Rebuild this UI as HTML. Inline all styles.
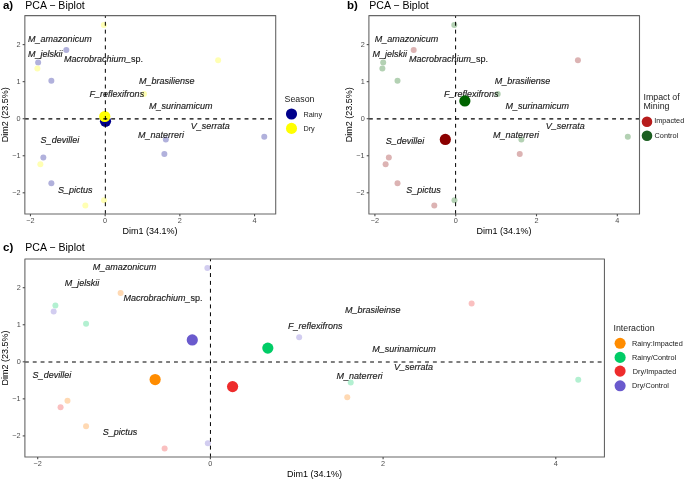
<!DOCTYPE html>
<html><head><meta charset="utf-8"><style>
html,body{margin:0;padding:0;background:#fff;}
body{width:685px;height:479px;overflow:hidden;}
svg{display:block;font-family:"Liberation Sans", sans-serif;will-change:transform;}
</style></head><body>
<svg width="685" height="479" viewBox="0 0 685 479">
<rect width="685" height="479" fill="#fff"/>
<text x="2.95" y="8.80" font-size="11.5" fill="#000" font-weight="bold" text-anchor="start" >a)</text>
<text x="25.25" y="8.80" font-size="10.56" fill="#000" text-anchor="start" >PCA − Biplot</text>
<circle cx="103.84" cy="24.96" r="3.0" fill="#FFFFB3"/>
<circle cx="66.31" cy="49.97" r="3.0" fill="#B1B1DC"/>
<circle cx="38.11" cy="62.38" r="3.0" fill="#B1B1DC"/>
<circle cx="37.36" cy="68.50" r="3.0" fill="#FFFFB3"/>
<circle cx="51.37" cy="80.72" r="3.0" fill="#B1B1DC"/>
<circle cx="143.99" cy="93.88" r="3.0" fill="#FFFFB3"/>
<circle cx="218.13" cy="60.35" r="3.0" fill="#FFFFB3"/>
<circle cx="165.84" cy="139.45" r="3.0" fill="#B1B1DC"/>
<circle cx="164.35" cy="154.08" r="3.0" fill="#B1B1DC"/>
<circle cx="264.26" cy="136.74" r="3.0" fill="#B1B1DC"/>
<circle cx="43.34" cy="157.60" r="3.0" fill="#B1B1DC"/>
<circle cx="40.35" cy="164.27" r="3.0" fill="#FFFFB3"/>
<circle cx="51.37" cy="183.17" r="3.0" fill="#B1B1DC"/>
<circle cx="85.35" cy="205.40" r="3.0" fill="#FFFFB3"/>
<circle cx="104.03" cy="200.21" r="3.0" fill="#FFFFB3"/>
<text x="28.10" y="41.90" font-size="9.0" fill="#1a1a1a" font-style="italic" stroke="#1a1a1a" stroke-width="0.15">M<tspan dy="0.7">_</tspan><tspan dy="-0.7">amazonicum</tspan></text>
<text x="28.10" y="57.00" font-size="9.0" fill="#1a1a1a" font-style="italic" stroke="#1a1a1a" stroke-width="0.15">M<tspan dy="0.7">_</tspan><tspan dy="-0.7">jelskii</tspan></text>
<text x="64.00" y="61.60" font-size="9.0" fill="#1a1a1a" font-style="italic" stroke="#1a1a1a" stroke-width="0.15">Macrobrachium<tspan dy="0.7">_</tspan><tspan dy="-0.7"><tspan font-style="normal">sp.</tspan></tspan></text>
<text x="139.00" y="84.10" font-size="9.0" fill="#1a1a1a" font-style="italic" stroke="#1a1a1a" stroke-width="0.15">M<tspan dy="0.7">_</tspan><tspan dy="-0.7">brasiliense</tspan></text>
<text x="89.60" y="96.50" font-size="9.0" fill="#1a1a1a" font-style="italic" stroke="#1a1a1a" stroke-width="0.15">F<tspan dy="0.7">_</tspan><tspan dy="-0.7">reflexifrons</tspan></text>
<text x="148.90" y="109.10" font-size="9.0" fill="#1a1a1a" font-style="italic" stroke="#1a1a1a" stroke-width="0.15">M<tspan dy="0.7">_</tspan><tspan dy="-0.7">surinamicum</tspan></text>
<text x="190.70" y="128.80" font-size="9.0" fill="#1a1a1a" font-style="italic" stroke="#1a1a1a" stroke-width="0.15">V<tspan dy="0.7">_</tspan><tspan dy="-0.7">serrata</tspan></text>
<text x="138.00" y="137.90" font-size="9.0" fill="#1a1a1a" font-style="italic" stroke="#1a1a1a" stroke-width="0.15">M<tspan dy="0.7">_</tspan><tspan dy="-0.7">naterreri</tspan></text>
<text x="40.60" y="142.90" font-size="9.0" fill="#1a1a1a" font-style="italic" stroke="#1a1a1a" stroke-width="0.15">S<tspan dy="0.7">_</tspan><tspan dy="-0.7">devillei</tspan></text>
<text x="58.00" y="192.60" font-size="9.0" fill="#1a1a1a" font-style="italic" stroke="#1a1a1a" stroke-width="0.15">S<tspan dy="0.7">_</tspan><tspan dy="-0.7">pictus</tspan></text>
<circle cx="105.52" cy="121.29" r="5.6" fill="#00008B"/>
<circle cx="104.78" cy="116.48" r="5.6" fill="#FFFF00"/>
<line x1="24.85" y1="118.85" x2="275.70" y2="118.85" stroke="#000" stroke-width="1.15" stroke-dasharray="3.923 3.923"/>
<line x1="105.35" y1="214.05" x2="105.35" y2="15.60" stroke="#000" stroke-width="1.0" stroke-dasharray="3.923 3.923"/>
<rect x="24.85" y="15.60" width="250.85" height="198.45" fill="none" stroke="#666666" stroke-width="1.1" stroke-linejoin="round"/>
<line x1="30.45" y1="214.05" x2="30.45" y2="216.25" stroke="#4d4d4d" stroke-width="1.1"/>
<text x="30.45" y="223.00" font-size="7.3" fill="#4d4d4d" text-anchor="middle" >−2</text>
<line x1="105.15" y1="214.05" x2="105.15" y2="216.25" stroke="#4d4d4d" stroke-width="1.1"/>
<text x="105.15" y="223.00" font-size="7.3" fill="#4d4d4d" text-anchor="middle" >0</text>
<line x1="179.85" y1="214.05" x2="179.85" y2="216.25" stroke="#4d4d4d" stroke-width="1.1"/>
<text x="179.85" y="223.00" font-size="7.3" fill="#4d4d4d" text-anchor="middle" >2</text>
<line x1="254.55" y1="214.05" x2="254.55" y2="216.25" stroke="#4d4d4d" stroke-width="1.1"/>
<text x="254.55" y="223.00" font-size="7.3" fill="#4d4d4d" text-anchor="middle" >4</text>
<line x1="22.65" y1="192.80" x2="24.85" y2="192.80" stroke="#4d4d4d" stroke-width="1.1"/>
<text x="20.65" y="195.30" font-size="7.3" fill="#4d4d4d" text-anchor="end" >−2</text>
<line x1="22.65" y1="155.75" x2="24.85" y2="155.75" stroke="#4d4d4d" stroke-width="1.1"/>
<text x="20.65" y="158.25" font-size="7.3" fill="#4d4d4d" text-anchor="end" >−1</text>
<line x1="22.65" y1="118.70" x2="24.85" y2="118.70" stroke="#4d4d4d" stroke-width="1.1"/>
<text x="20.65" y="121.20" font-size="7.3" fill="#4d4d4d" text-anchor="end" >0</text>
<line x1="22.65" y1="81.65" x2="24.85" y2="81.65" stroke="#4d4d4d" stroke-width="1.1"/>
<text x="20.65" y="84.15" font-size="7.3" fill="#4d4d4d" text-anchor="end" >1</text>
<line x1="22.65" y1="44.60" x2="24.85" y2="44.60" stroke="#4d4d4d" stroke-width="1.1"/>
<text x="20.65" y="47.10" font-size="7.3" fill="#4d4d4d" text-anchor="end" >2</text>
<text x="150.08" y="233.90" font-size="9.0" fill="#000" text-anchor="middle" >Dim1 (34.1%)</text>
<text x="0" y="0" font-size="9.0" fill="#000" text-anchor="middle" transform="translate(8.20,114.83) rotate(-90)">Dim2 (23.5%)</text>
<text x="284.60" y="101.90" font-size="8.8" fill="#1a1a1a" text-anchor="start" >Season</text>
<circle cx="291.5" cy="114" r="5.55" fill="#00008B"/>
<circle cx="291.5" cy="128.4" r="5.55" fill="#FFFF00"/>
<text x="303.40" y="117.30" font-size="7.3" fill="#1a1a1a" text-anchor="start" >Rainy</text>
<text x="303.40" y="131.30" font-size="7.3" fill="#1a1a1a" text-anchor="start" >Dry</text>
<text x="347.00" y="8.80" font-size="11.5" fill="#000" font-weight="bold" text-anchor="start" >b)</text>
<text x="369.30" y="8.80" font-size="10.56" fill="#000" text-anchor="start" >PCA − Biplot</text>
<circle cx="454.29" cy="24.96" r="3.0" fill="#B3D1B3"/>
<circle cx="413.68" cy="49.97" r="3.0" fill="#DCB3B3"/>
<circle cx="383.18" cy="62.38" r="3.0" fill="#B3D1B3"/>
<circle cx="382.37" cy="68.50" r="3.0" fill="#B3D1B3"/>
<circle cx="397.52" cy="80.72" r="3.0" fill="#B3D1B3"/>
<circle cx="497.72" cy="93.88" r="3.0" fill="#B3D1B3"/>
<circle cx="577.91" cy="60.35" r="3.0" fill="#DCB3B3"/>
<circle cx="521.35" cy="139.45" r="3.0" fill="#B3D1B3"/>
<circle cx="519.73" cy="154.08" r="3.0" fill="#DCB3B3"/>
<circle cx="627.80" cy="136.74" r="3.0" fill="#B3D1B3"/>
<circle cx="388.84" cy="157.60" r="3.0" fill="#DCB3B3"/>
<circle cx="385.61" cy="164.27" r="3.0" fill="#DCB3B3"/>
<circle cx="397.52" cy="183.17" r="3.0" fill="#DCB3B3"/>
<circle cx="434.29" cy="205.40" r="3.0" fill="#DCB3B3"/>
<circle cx="454.49" cy="200.21" r="3.0" fill="#B3D1B3"/>
<text x="374.80" y="41.90" font-size="9.0" fill="#1a1a1a" font-style="italic" stroke="#1a1a1a" stroke-width="0.15">M<tspan dy="0.7">_</tspan><tspan dy="-0.7">amazonicum</tspan></text>
<text x="372.60" y="57.00" font-size="9.0" fill="#1a1a1a" font-style="italic" stroke="#1a1a1a" stroke-width="0.15">M<tspan dy="0.7">_</tspan><tspan dy="-0.7">jelskii</tspan></text>
<text x="409.00" y="61.60" font-size="9.0" fill="#1a1a1a" font-style="italic" stroke="#1a1a1a" stroke-width="0.15">Macrobrachium<tspan dy="0.7">_</tspan><tspan dy="-0.7"><tspan font-style="normal">sp.</tspan></tspan></text>
<text x="494.80" y="83.90" font-size="9.0" fill="#1a1a1a" font-style="italic" stroke="#1a1a1a" stroke-width="0.15">M<tspan dy="0.7">_</tspan><tspan dy="-0.7">brasiliense</tspan></text>
<text x="443.90" y="96.50" font-size="9.0" fill="#1a1a1a" font-style="italic" stroke="#1a1a1a" stroke-width="0.15">F<tspan dy="0.7">_</tspan><tspan dy="-0.7">reflexifrons</tspan></text>
<text x="505.40" y="108.90" font-size="9.0" fill="#1a1a1a" font-style="italic" stroke="#1a1a1a" stroke-width="0.15">M<tspan dy="0.7">_</tspan><tspan dy="-0.7">surinamicum</tspan></text>
<text x="545.70" y="128.60" font-size="9.0" fill="#1a1a1a" font-style="italic" stroke="#1a1a1a" stroke-width="0.15">V<tspan dy="0.7">_</tspan><tspan dy="-0.7">serrata</tspan></text>
<text x="493.10" y="137.80" font-size="9.0" fill="#1a1a1a" font-style="italic" stroke="#1a1a1a" stroke-width="0.15">M<tspan dy="0.7">_</tspan><tspan dy="-0.7">naterreri</tspan></text>
<text x="385.80" y="143.50" font-size="9.0" fill="#1a1a1a" font-style="italic" stroke="#1a1a1a" stroke-width="0.15">S<tspan dy="0.7">_</tspan><tspan dy="-0.7">devillei</tspan></text>
<text x="406.20" y="193.00" font-size="9.0" fill="#1a1a1a" font-style="italic" stroke="#1a1a1a" stroke-width="0.15">S<tspan dy="0.7">_</tspan><tspan dy="-0.7">pictus</tspan></text>
<circle cx="445.32" cy="139.45" r="5.6" fill="#8B0000"/>
<circle cx="464.87" cy="100.92" r="5.6" fill="#006400"/>
<line x1="368.90" y1="118.85" x2="639.50" y2="118.85" stroke="#000" stroke-width="1.15" stroke-dasharray="3.923 3.923"/>
<line x1="455.60" y1="214.05" x2="455.60" y2="15.60" stroke="#000" stroke-width="1.0" stroke-dasharray="3.923 3.923"/>
<rect x="368.90" y="15.60" width="270.60" height="198.45" fill="none" stroke="#666666" stroke-width="1.1" stroke-linejoin="round"/>
<line x1="374.90" y1="214.05" x2="374.90" y2="216.25" stroke="#4d4d4d" stroke-width="1.1"/>
<text x="374.90" y="223.00" font-size="7.3" fill="#4d4d4d" text-anchor="middle" >−2</text>
<line x1="455.70" y1="214.05" x2="455.70" y2="216.25" stroke="#4d4d4d" stroke-width="1.1"/>
<text x="455.70" y="223.00" font-size="7.3" fill="#4d4d4d" text-anchor="middle" >0</text>
<line x1="536.50" y1="214.05" x2="536.50" y2="216.25" stroke="#4d4d4d" stroke-width="1.1"/>
<text x="536.50" y="223.00" font-size="7.3" fill="#4d4d4d" text-anchor="middle" >2</text>
<line x1="617.30" y1="214.05" x2="617.30" y2="216.25" stroke="#4d4d4d" stroke-width="1.1"/>
<text x="617.30" y="223.00" font-size="7.3" fill="#4d4d4d" text-anchor="middle" >4</text>
<line x1="366.70" y1="192.80" x2="368.90" y2="192.80" stroke="#4d4d4d" stroke-width="1.1"/>
<text x="364.70" y="195.30" font-size="7.3" fill="#4d4d4d" text-anchor="end" >−2</text>
<line x1="366.70" y1="155.75" x2="368.90" y2="155.75" stroke="#4d4d4d" stroke-width="1.1"/>
<text x="364.70" y="158.25" font-size="7.3" fill="#4d4d4d" text-anchor="end" >−1</text>
<line x1="366.70" y1="118.70" x2="368.90" y2="118.70" stroke="#4d4d4d" stroke-width="1.1"/>
<text x="364.70" y="121.20" font-size="7.3" fill="#4d4d4d" text-anchor="end" >0</text>
<line x1="366.70" y1="81.65" x2="368.90" y2="81.65" stroke="#4d4d4d" stroke-width="1.1"/>
<text x="364.70" y="84.15" font-size="7.3" fill="#4d4d4d" text-anchor="end" >1</text>
<line x1="366.70" y1="44.60" x2="368.90" y2="44.60" stroke="#4d4d4d" stroke-width="1.1"/>
<text x="364.70" y="47.10" font-size="7.3" fill="#4d4d4d" text-anchor="end" >2</text>
<text x="504.00" y="233.90" font-size="9.0" fill="#000" text-anchor="middle" >Dim1 (34.1%)</text>
<text x="0" y="0" font-size="9.0" fill="#000" text-anchor="middle" transform="translate(352.30,114.83) rotate(-90)">Dim2 (23.5%)</text>
<text x="643.50" y="100.40" font-size="8.8" fill="#1a1a1a" text-anchor="start" >Impact of</text>
<text x="643.50" y="108.80" font-size="8.8" fill="#1a1a1a" text-anchor="start" >Mining</text>
<circle cx="647" cy="121.7" r="5.3" fill="#B71C1C"/>
<circle cx="647" cy="135.8" r="5.3" fill="#1B5E20"/>
<text x="654.20" y="123.40" font-size="7.3" fill="#1a1a1a" text-anchor="start" >Impacted</text>
<text x="654.60" y="137.70" font-size="7.3" fill="#1a1a1a" text-anchor="start" >Control</text>
<text x="3.00" y="251.10" font-size="11.5" fill="#000" font-weight="bold" text-anchor="start" >c)</text>
<text x="25.30" y="251.10" font-size="10.56" fill="#000" text-anchor="start" >PCA − Biplot</text>
<circle cx="207.38" cy="268.06" r="3.0" fill="#D2CDF0"/>
<circle cx="120.60" cy="293.07" r="3.0" fill="#FFD9B3"/>
<circle cx="55.40" cy="305.48" r="3.0" fill="#B3F0D1"/>
<circle cx="53.67" cy="311.60" r="3.0" fill="#D2CDF0"/>
<circle cx="86.06" cy="323.82" r="3.0" fill="#B3F0D1"/>
<circle cx="299.17" cy="337.35" r="3.0" fill="#D2CDF0"/>
<circle cx="471.61" cy="303.45" r="3.0" fill="#FAC0C0"/>
<circle cx="350.72" cy="382.55" r="3.0" fill="#B3F0D1"/>
<circle cx="347.26" cy="397.18" r="3.0" fill="#FFD9B3"/>
<circle cx="578.25" cy="379.84" r="3.0" fill="#B3F0D1"/>
<circle cx="67.49" cy="400.70" r="3.0" fill="#FFD9B3"/>
<circle cx="60.58" cy="407.37" r="3.0" fill="#FAC0C0"/>
<circle cx="86.06" cy="426.27" r="3.0" fill="#FFD9B3"/>
<circle cx="164.63" cy="448.50" r="3.0" fill="#FAC0C0"/>
<circle cx="207.81" cy="443.31" r="3.0" fill="#D2CDF0"/>
<text x="92.80" y="270.40" font-size="9.0" fill="#1a1a1a" font-style="italic" stroke="#1a1a1a" stroke-width="0.15">M<tspan dy="0.7">_</tspan><tspan dy="-0.7">amazonicum</tspan></text>
<text x="64.70" y="285.90" font-size="9.0" fill="#1a1a1a" font-style="italic" stroke="#1a1a1a" stroke-width="0.15">M<tspan dy="0.7">_</tspan><tspan dy="-0.7">jelskii</tspan></text>
<text x="123.50" y="301.40" font-size="9.0" fill="#1a1a1a" font-style="italic" stroke="#1a1a1a" stroke-width="0.15">Macrobrachium<tspan dy="0.7">_</tspan><tspan dy="-0.7"><tspan font-style="normal">sp.</tspan></tspan></text>
<text x="345.00" y="312.60" font-size="9.0" fill="#1a1a1a" font-style="italic" stroke="#1a1a1a" stroke-width="0.15">M<tspan dy="0.7">_</tspan><tspan dy="-0.7">brasileinse</tspan></text>
<text x="287.90" y="328.90" font-size="9.0" fill="#1a1a1a" font-style="italic" stroke="#1a1a1a" stroke-width="0.15">F<tspan dy="0.7">_</tspan><tspan dy="-0.7">reflexifrons</tspan></text>
<text x="372.20" y="351.60" font-size="9.0" fill="#1a1a1a" font-style="italic" stroke="#1a1a1a" stroke-width="0.15">M<tspan dy="0.7">_</tspan><tspan dy="-0.7">surinamicum</tspan></text>
<text x="394.00" y="369.60" font-size="9.0" fill="#1a1a1a" font-style="italic" stroke="#1a1a1a" stroke-width="0.15">V<tspan dy="0.7">_</tspan><tspan dy="-0.7">serrata</tspan></text>
<text x="336.60" y="378.80" font-size="9.0" fill="#1a1a1a" font-style="italic" stroke="#1a1a1a" stroke-width="0.15">M<tspan dy="0.7">_</tspan><tspan dy="-0.7">naterreri</tspan></text>
<text x="32.60" y="377.90" font-size="9.0" fill="#1a1a1a" font-style="italic" stroke="#1a1a1a" stroke-width="0.15">S<tspan dy="0.7">_</tspan><tspan dy="-0.7">devillei</tspan></text>
<text x="102.70" y="435.00" font-size="9.0" fill="#1a1a1a" font-style="italic" stroke="#1a1a1a" stroke-width="0.15">S<tspan dy="0.7">_</tspan><tspan dy="-0.7">pictus</tspan></text>
<circle cx="155.14" cy="379.58" r="5.6" fill="#FF8C00"/>
<circle cx="267.82" cy="348.09" r="5.6" fill="#00CC66"/>
<circle cx="232.59" cy="386.62" r="5.6" fill="#EE2C2C"/>
<circle cx="192.27" cy="339.94" r="5.6" fill="#6A5ACD"/>
<line x1="24.90" y1="362.00" x2="604.45" y2="362.00" stroke="#000" stroke-width="1.15" stroke-dasharray="3.923 3.923"/>
<line x1="210.45" y1="457.45" x2="210.45" y2="259.00" stroke="#000" stroke-width="1.0" stroke-dasharray="3.923 3.923"/>
<rect x="24.90" y="259.00" width="579.55" height="198.05" fill="none" stroke="#666666" stroke-width="1.1" stroke-linejoin="round"/>
<line x1="37.70" y1="457.05" x2="37.70" y2="459.25" stroke="#4d4d4d" stroke-width="1.1"/>
<text x="37.70" y="466.00" font-size="7.3" fill="#4d4d4d" text-anchor="middle" >−2</text>
<line x1="210.40" y1="457.05" x2="210.40" y2="459.25" stroke="#4d4d4d" stroke-width="1.1"/>
<text x="210.40" y="466.00" font-size="7.3" fill="#4d4d4d" text-anchor="middle" >0</text>
<line x1="383.10" y1="457.05" x2="383.10" y2="459.25" stroke="#4d4d4d" stroke-width="1.1"/>
<text x="383.10" y="466.00" font-size="7.3" fill="#4d4d4d" text-anchor="middle" >2</text>
<line x1="555.80" y1="457.05" x2="555.80" y2="459.25" stroke="#4d4d4d" stroke-width="1.1"/>
<text x="555.80" y="466.00" font-size="7.3" fill="#4d4d4d" text-anchor="middle" >4</text>
<line x1="22.70" y1="435.90" x2="24.90" y2="435.90" stroke="#4d4d4d" stroke-width="1.1"/>
<text x="20.70" y="438.40" font-size="7.3" fill="#4d4d4d" text-anchor="end" >−2</text>
<line x1="22.70" y1="398.85" x2="24.90" y2="398.85" stroke="#4d4d4d" stroke-width="1.1"/>
<text x="20.70" y="401.35" font-size="7.3" fill="#4d4d4d" text-anchor="end" >−1</text>
<line x1="22.70" y1="361.80" x2="24.90" y2="361.80" stroke="#4d4d4d" stroke-width="1.1"/>
<text x="20.70" y="364.30" font-size="7.3" fill="#4d4d4d" text-anchor="end" >0</text>
<line x1="22.70" y1="324.75" x2="24.90" y2="324.75" stroke="#4d4d4d" stroke-width="1.1"/>
<text x="20.70" y="327.25" font-size="7.3" fill="#4d4d4d" text-anchor="end" >1</text>
<line x1="22.70" y1="287.70" x2="24.90" y2="287.70" stroke="#4d4d4d" stroke-width="1.1"/>
<text x="20.70" y="290.20" font-size="7.3" fill="#4d4d4d" text-anchor="end" >2</text>
<text x="314.48" y="476.60" font-size="9.0" fill="#000" text-anchor="middle" >Dim1 (34.1%)</text>
<text x="0" y="0" font-size="9.0" fill="#000" text-anchor="middle" transform="translate(8.20,358.02) rotate(-90)">Dim2 (23.5%)</text>
<text x="613.50" y="330.70" font-size="8.8" fill="#1a1a1a" text-anchor="start" >Interaction</text>
<circle cx="620.1" cy="343.3" r="5.55" fill="#FF8C00"/>
<text x="632.00" y="345.90" font-size="7.3" fill="#1a1a1a" text-anchor="start" >Rainy:Impacted</text>
<circle cx="620.1" cy="357.4" r="5.55" fill="#00CC66"/>
<text x="632.00" y="360.00" font-size="7.3" fill="#1a1a1a" text-anchor="start" >Rainy/Control</text>
<circle cx="620.1" cy="371.1" r="5.55" fill="#EE2C2C"/>
<text x="632.80" y="373.70" font-size="7.3" fill="#1a1a1a" text-anchor="start" >Dry/Impacted</text>
<circle cx="620.1" cy="385.8" r="5.55" fill="#6A5ACD"/>
<text x="632.00" y="388.40" font-size="7.3" fill="#1a1a1a" text-anchor="start" >Dry/Control</text>
</svg>
</body></html>
